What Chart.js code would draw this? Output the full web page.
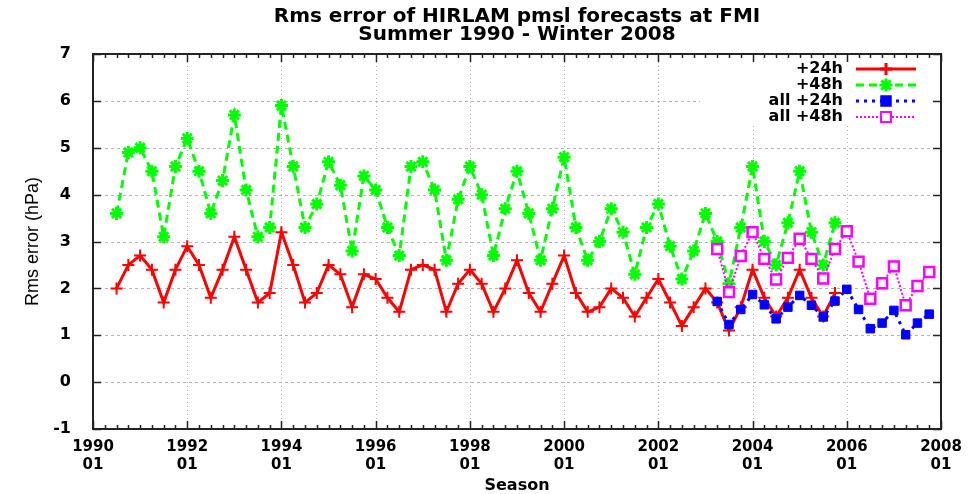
<!DOCTYPE html>
<html>
<head>
<meta charset="utf-8">
<script src="https://cdn.jsdelivr.net/npm/chart.js@4/dist/chart.umd.min.js"></script>
<style>
  html, body { margin: 0; background: #fff; }
  #wrap { width: 978px; height: 494px; }
</style>
</head>
<body>
<div id="wrap"><canvas id="chart"></canvas></div>
<script>
// one point per season, a quarter of a year apart
const seasonStep = 0.25;
const fmiStart = 1990.5;   // summer 1990
const allStart = 2003.25;  // spring 2003

const seriesNames = ["+24h", "+48h", "all +24h", "all +48h"];

const rms24 = [2.0, 2.5, 2.7, 2.4, 1.7, 2.4, 2.9, 2.5, 1.8, 2.4, 3.1, 2.4, 1.7, 1.9, 3.2, 2.5, 1.7,
  1.9, 2.5, 2.3, 1.6, 2.3, 2.2, 1.8, 1.5, 2.4, 2.5, 2.4, 1.5, 2.1, 2.4, 2.1, 1.5, 2.0, 2.6,
  1.9, 1.5, 2.1, 2.7, 1.9, 1.5, 1.6, 2.0, 1.8, 1.4, 1.8, 2.2, 1.7, 1.2, 1.6, 2.0,
  1.7, 1.1, 1.6, 2.4, 1.8, 1.4, 1.8, 2.4, 1.8, 1.4, 1.9];
const rms48 = [3.6, 4.9, 5.0, 4.5, 3.1, 4.6, 5.2, 4.5, 3.6, 4.3, 5.7, 4.1, 3.1, 3.3, 5.9, 4.6, 3.3,
  3.8, 4.7, 4.2, 2.8, 4.4, 4.1, 3.3, 2.7, 4.6, 4.7, 4.1, 2.6, 3.9, 4.6, 4.0, 2.7, 3.7, 4.5,
  3.6, 2.6, 3.7, 4.8, 3.3, 2.6, 3.0, 3.7, 3.2, 2.3, 3.3, 3.8, 2.9, 2.2, 2.8, 3.6,
  3.0, 2.1, 3.3, 4.6, 3.0, 2.5, 3.4, 4.5, 3.2, 2.5, 3.4];
const all24 = [1.72, 1.23, 1.55, 1.87, 1.65, 1.35, 1.60, 1.85, 1.64, 1.39, 1.73, 1.98,
  1.55, 1.14, 1.26, 1.53, 1.01, 1.26, 1.45];
const all48 = [2.84, 1.92, 2.69, 3.20, 2.63, 2.19, 2.65, 3.06, 2.63, 2.21, 2.84, 3.22,
  2.57, 1.78, 2.11, 2.47, 1.64, 2.05, 2.35];

const yearTicks = [1990, 1992, 1994, 1996, 1998, 2000, 2002, 2004, 2006, 2008];
const yTicks = [-1, 0, 1, 2, 3, 4, 5, 6, 7];

const FONT = "'DejaVu Sans', sans-serif";

function toPoints(vals, start) {
  return vals.map((v, i) => ({ x: start + i * seasonStep, y: v }));
}

// gnuplot-like frame: grid, inward ticks, border and key
const framePlugin = {
  id: "frame",
  beforeDatasetsDraw(chart) {
    const { ctx, chartArea: a, scales: { x, y } } = chart;
    ctx.save();
    ctx.strokeStyle = "#b4b4b4";
    ctx.lineWidth = 1;
    ctx.setLineDash([3, 3]);
    yTicks.slice(1, -1).forEach(v => {
      const py = Math.round(y.getPixelForValue(v)) + 0.5;
      ctx.beginPath(); ctx.moveTo(a.left, py); ctx.lineTo(a.right, py); ctx.stroke();
    });
    ctx.setLineDash([1, 3]);
    yearTicks.slice(1, -1).forEach(v => {
      const px = Math.round(x.getPixelForValue(v)) + 0.5;
      ctx.beginPath(); ctx.moveTo(px, a.top); ctx.lineTo(px, a.bottom); ctx.stroke();
    });
    // key background
    ctx.fillStyle = "#fff";
    ctx.fillRect(700, a.top, a.right - 700, 72);
    ctx.restore();
  },
  afterDatasetsDraw(chart) {
    const { ctx, chartArea: a, scales: { x, y } } = chart;
    ctx.save();
    ctx.strokeStyle = "#222";
    ctx.lineWidth = 1.5;
    ctx.beginPath();
    yTicks.forEach(v => {
      const py = Math.round(y.getPixelForValue(v)) + 0.5;
      ctx.moveTo(a.left, py); ctx.lineTo(a.left + 8, py);
      ctx.moveTo(a.right, py); ctx.lineTo(a.right - 8, py);
    });
    for (let q = yearTicks[0]; q <= yearTicks[yearTicks.length - 1]; q += seasonStep) {
      const px = Math.round(x.getPixelForValue(q)) + 0.5;
      const len = yearTicks.includes(q) ? 8 : 4;
      ctx.moveTo(px, a.bottom); ctx.lineTo(px, a.bottom - len);
      ctx.moveTo(px, a.top); ctx.lineTo(px, a.top + len);
    }
    ctx.stroke();
    ctx.lineWidth = 2;
    ctx.strokeRect(a.left, a.top, a.right - a.left, a.bottom - a.top);

    // key
    ctx.font = "bold 16px " + FONT;
    ctx.textAlign = "right";
    ctx.textBaseline = "middle";
    chart.data.datasets.forEach((ds, i) => {
      const ry = 69 + i * 16;
      ctx.fillStyle = "#000";
      ctx.fillText(seriesNames[i], 843, ry);
      ctx.strokeStyle = ds.borderColor;
      ctx.lineWidth = ds.borderWidth;
      ctx.setLineDash(ds.borderDash || []);
      ctx.beginPath(); ctx.moveTo(856, ry); ctx.lineTo(916, ry); ctx.stroke();
      ctx.setLineDash([]);
      ctx.fillStyle = ds.pointBackgroundColor;
      Chart.helpers.drawPoint(ctx, {
        pointStyle: ds.pointStyle, radius: ds.pointRadius,
        borderWidth: ds.pointBorderWidth, rotation: 0
      }, 886, ry);
    });
    ctx.restore();
  }
};

new Chart(document.getElementById("chart"), {
  type: "line",
  data: {
    datasets: [
      {
        label: seriesNames[0], data: toPoints(rms24, fmiStart),
        borderColor: "#ff0000", borderWidth: 3, order: 4,
        pointStyle: "cross", pointRadius: 6, pointBorderWidth: 2,
        pointBorderColor: "#ff0000", pointBackgroundColor: "#ff0000"
      },
      {
        label: seriesNames[1], data: toPoints(rms48, fmiStart),
        borderColor: "#00ff00", borderWidth: 3, borderDash: [8, 5], order: 3,
        pointStyle: "star", pointRadius: 6.5, pointBorderWidth: 3,
        pointBorderColor: "#00ff00", pointBackgroundColor: "#00ff00"
      },
      {
        label: seriesNames[2], data: toPoints(all24, allStart),
        borderColor: "#0000ff", borderWidth: 3, borderDash: [3, 5], order: 2,
        pointStyle: "rect", pointRadius: 6, pointBorderWidth: 1,
        pointBorderColor: "#0000ff", pointBackgroundColor: "#0000ff"
      },
      {
        label: seriesNames[3], data: toPoints(all48, allStart),
        borderColor: "#ff00ff", borderWidth: 2, borderDash: [2, 2], order: 1,
        pointStyle: "rect", pointRadius: 7, pointBorderWidth: 2.5,
        pointBorderColor: "#ff00ff", pointBackgroundColor: "#ffffff"
      }
    ]
  },
  options: {
    responsive: true,
    maintainAspectRatio: false,
    animation: false,
    layout: { padding: { left: 0, right: 37, top: 0, bottom: 0 } },
    elements: { line: { tension: 0, fill: false } },
    plugins: {
      legend: { display: false },
      tooltip: { enabled: false },
      title: {
        display: true,
        fullSize: false,
        text: ["Rms error of HIRLAM pmsl forecasts at FMI", "Summer 1990 - Winter 2008"],
        color: "#000",
        font: { family: FONT, size: 20, weight: "bold", lineHeight: 0.9 },
        padding: { top: 8, bottom: 10 }
      }
    },
    scales: {
      x: {
        type: "linear",
        min: 1990, max: 2008,
        afterBuildTicks: s => { s.ticks = yearTicks.map(v => ({ value: v })); },
        afterFit: s => { s.height = 65; },
        grid: { display: false },
        border: { display: false },
        ticks: {
          color: "#000",
          font: { family: FONT, size: 15, weight: "bold", lineHeight: 1.2 },
          padding: 1,
          maxRotation: 0,
          callback: v => [String(v), "01"]
        },
        title: {
          display: true, text: "Season", color: "#000",
          font: { family: FONT, size: 16, weight: "bold", lineHeight: 1 },
          padding: { top: 0, bottom: 0 }
        }
      },
      y: {
        min: -1, max: 7,
        afterBuildTicks: s => { s.ticks = yTicks.map(v => ({ value: v })); },
        afterFit: s => { s.width = 93; },
        grid: { display: false },
        border: { display: false },
        ticks: {
          color: "#000",
          font: { family: FONT, size: 16, weight: "bold" },
          padding: 14
        },
        title: {
          display: true, text: "Rms error (hPa)", color: "#000",
          font: { family: "'Liberation Sans', sans-serif", size: 18, weight: "normal", lineHeight: 1.2 },
          padding: { top: 22, bottom: 0 }
        }
      }
    }
  },
  plugins: [framePlugin]
});
</script>
</body>
</html>
